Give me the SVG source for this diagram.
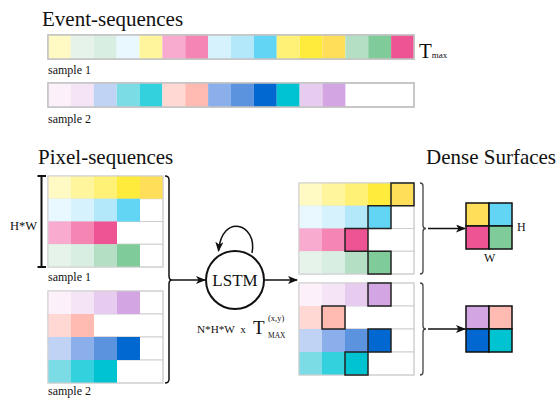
<svg xmlns="http://www.w3.org/2000/svg" xmlns:xlink="http://www.w3.org/1999/xlink" width="558" height="398" viewBox="0 0 558 398" font-family="'Liberation Serif', 'Times New Roman', 'DejaVu Serif', serif">
<style>
  text { font-family: 'Liberation Serif', 'Times New Roman', 'DejaVu Serif', serif; fill: #111; }
  .title { font-size: 21px; }
  .small { font-size: 12px; }
  .row { fill: #fff; stroke: #cfcfcf; stroke-width: 1; }
  .bar { fill: #fff; stroke: #c4c4c4; stroke-width: 1.5; }
  .hl { fill: none; stroke: #222; stroke-width: 1.5; }
  .brk { fill: none; stroke: #111; stroke-width: 1.5; }
  .brk2 { fill: none; stroke: #444; stroke-width: 1.3; }
  .arr { fill: none; stroke: #111; stroke-width: 1.5; marker-end: url(#ah); }
  .dense { stroke: #111; stroke-width: 1.5; }
</style>
<defs>
  <marker id="ah" viewBox="0 0 10 8" refX="9" refY="4" markerWidth="10" markerHeight="8" markerUnits="userSpaceOnUse" orient="auto">
    <path d="M0,0 L10,4 L0,8 L2.5,4 z" fill="#111"/>
  </marker>
  <g id="gridA">
    <rect class="row" x="0" y="0" width="115" height="22.75"/>
    <rect class="row" x="0" y="22.75" width="115" height="22.75"/>
    <rect class="row" x="0" y="45.5" width="115" height="22.75"/>
    <rect class="row" x="0" y="68.25" width="115" height="22.75"/>
    <rect x="0" y="0" width="23" height="22.75" fill="#FFF9C4"/>
    <rect x="23" y="0" width="23" height="22.75" fill="#FFF59D"/>
    <rect x="46" y="0" width="23" height="22.75" fill="#FFF176"/>
    <rect x="69" y="0" width="23" height="22.75" fill="#FFEB3B"/>
    <rect x="92" y="0" width="23" height="22.75" fill="#FFDE59"/>
    <rect x="0" y="22.75" width="23" height="22.75" fill="#E8F8FE"/>
    <rect x="23" y="22.75" width="23" height="22.75" fill="#D6F2FD"/>
    <rect x="46" y="22.75" width="23" height="22.75" fill="#B2E8FA"/>
    <rect x="69" y="22.75" width="23" height="22.75" fill="#62D5F4"/>
    <rect x="0" y="45.5" width="23" height="22.75" fill="#F9AACF"/>
    <rect x="23" y="45.5" width="23" height="22.75" fill="#F585B2"/>
    <rect x="46" y="45.5" width="23" height="22.75" fill="#EE5493"/>
    <rect x="0" y="68.25" width="23" height="22.75" fill="#E6F3EA"/>
    <rect x="23" y="68.25" width="23" height="22.75" fill="#D9EEE2"/>
    <rect x="46" y="68.25" width="23" height="22.75" fill="#B4DFC4"/>
    <rect x="69" y="68.25" width="23" height="22.75" fill="#7FCB99"/>
    <rect x="0" y="0" width="115" height="91" fill="none" stroke="#cfcfcf" stroke-width="1"/>
  </g>
  <g id="gridB">
    <rect class="row" x="0" y="0" width="115" height="23"/>
    <rect class="row" x="0" y="23" width="115" height="23"/>
    <rect class="row" x="0" y="46" width="115" height="23"/>
    <rect class="row" x="0" y="69" width="115" height="23"/>
    <rect x="0" y="0" width="23" height="23" fill="#FCF0FB"/>
    <rect x="23" y="0" width="23" height="23" fill="#F5E4F5"/>
    <rect x="46" y="0" width="23" height="23" fill="#E8CCEF"/>
    <rect x="69" y="0" width="23" height="23" fill="#D3A5E3"/>
    <rect x="0" y="23" width="23" height="23" fill="#FFD8D4"/>
    <rect x="23" y="23" width="23" height="23" fill="#FFBAB1"/>
    <rect x="0" y="46" width="23" height="23" fill="#C0D3F4"/>
    <rect x="23" y="46" width="23" height="23" fill="#8AAFEA"/>
    <rect x="46" y="46" width="23" height="23" fill="#5B93DE"/>
    <rect x="69" y="46" width="23" height="23" fill="#0068D0"/>
    <rect x="0" y="69" width="23" height="23" fill="#7CDCE6"/>
    <rect x="23" y="69" width="23" height="23" fill="#33D1DD"/>
    <rect x="46" y="69" width="23" height="23" fill="#00C3D1"/>
    <rect x="0" y="0" width="115" height="92" fill="none" stroke="#cfcfcf" stroke-width="1"/>
  </g>
</defs>

<g id="event-sequences">
  <text class="title" x="42" y="26">Event-sequences</text>
  <g id="event-sample-1">
    <rect class="bar" x="48" y="35" width="366" height="24"/>
    <rect x="48" y="35" width="22.875" height="24" fill="#FFF9C4"/>
    <rect x="70.875" y="35" width="22.875" height="24" fill="#E6F3EA"/>
    <rect x="93.75" y="35" width="22.875" height="24" fill="#D9EEE2"/>
    <rect x="116.625" y="35" width="22.875" height="24" fill="#E8F8FE"/>
    <rect x="139.5" y="35" width="22.875" height="24" fill="#FFF59D"/>
    <rect x="162.375" y="35" width="22.875" height="24" fill="#F9AACF"/>
    <rect x="185.25" y="35" width="22.875" height="24" fill="#F585B2"/>
    <rect x="208.125" y="35" width="22.875" height="24" fill="#D6F2FD"/>
    <rect x="231" y="35" width="22.875" height="24" fill="#B2E8FA"/>
    <rect x="253.875" y="35" width="22.875" height="24" fill="#62D5F4"/>
    <rect x="276.75" y="35" width="22.875" height="24" fill="#FFF176"/>
    <rect x="299.625" y="35" width="22.875" height="24" fill="#FFEB3B"/>
    <rect x="322.5" y="35" width="22.875" height="24" fill="#FFDE59"/>
    <rect x="345.375" y="35" width="22.875" height="24" fill="#B4DFC4"/>
    <rect x="368.25" y="35" width="22.875" height="24" fill="#7FCB99"/>
    <rect x="391.125" y="35" width="22.875" height="24" fill="#EE5493"/>
    <rect x="48" y="35" width="366" height="24" fill="none" stroke="#c4c4c4" stroke-width="1.5"/>
    <text class="small" x="48" y="74">sample 1</text>
  </g>
  <text x="419" y="58" font-size="21">T<tspan font-size="9">max</tspan></text>
  <g id="event-sample-2">
    <rect class="bar" x="48" y="83" width="366" height="24"/>
    <rect x="48" y="83" width="22.875" height="24" fill="#FCF0FB"/>
    <rect x="70.875" y="83" width="22.875" height="24" fill="#F5E4F5"/>
    <rect x="93.75" y="83" width="22.875" height="24" fill="#C0D3F4"/>
    <rect x="116.625" y="83" width="22.875" height="24" fill="#7CDCE6"/>
    <rect x="139.5" y="83" width="22.875" height="24" fill="#33D1DD"/>
    <rect x="162.375" y="83" width="22.875" height="24" fill="#FFD8D4"/>
    <rect x="185.25" y="83" width="22.875" height="24" fill="#FFBAB1"/>
    <rect x="208.125" y="83" width="22.875" height="24" fill="#8AAFEA"/>
    <rect x="231" y="83" width="22.875" height="24" fill="#5B93DE"/>
    <rect x="253.875" y="83" width="22.875" height="24" fill="#0068D0"/>
    <rect x="276.75" y="83" width="22.875" height="24" fill="#00C3D1"/>
    <rect x="299.625" y="83" width="22.875" height="24" fill="#E8CCEF"/>
    <rect x="322.5" y="83" width="22.875" height="24" fill="#D3A5E3"/>
    <rect x="48" y="83" width="366" height="24" fill="none" stroke="#c4c4c4" stroke-width="1.5"/>
    <text class="small" x="48" y="123">sample 2</text>
  </g>
</g>

<g id="pixel-sequences">
  <text class="title" x="38" y="164">Pixel-sequences</text>
  <g id="pixel-sample-1">
    <use xlink:href="#gridA" href="#gridA" x="48" y="176"/>
    <text class="small" x="48" y="281">sample 1</text>
  </g>
  <g id="pixel-sample-2">
    <use xlink:href="#gridB" href="#gridB" x="48" y="291"/>
    <text class="small" x="48" y="395">sample 2</text>
  </g>
  <g id="hw-bracket">
    <path d="M41.5,176 V267 M37.5,176 H46 M37.5,267 H46" fill="none" stroke="#111" stroke-width="2"/>
    <text x="10" y="230" font-size="12.5">H*W</text>
  </g>
</g>

<g id="lstm">
  <circle cx="235" cy="280" r="29" fill="#fff" stroke="#111" stroke-width="2"/>
  <text x="235" y="286" font-size="17" text-anchor="middle">LSTM</text>
  <text x="197" y="333" font-size="11.2" xml:space="preserve">N*H*W  x</text>
  <text x="253" y="334" font-size="19">T</text>
  <text x="268" y="321" font-size="8.5">(x,y)</text>
  <text x="268" y="338" font-size="7.5">MAX</text>
</g>

<g id="output-1">
  <use xlink:href="#gridA" href="#gridA" x="299" y="183"/>
  <rect class="hl" x="391" y="183" width="23" height="22.75"/>
  <rect class="hl" x="368" y="205.75" width="23" height="22.75"/>
  <rect class="hl" x="345" y="228.5" width="23" height="22.75"/>
  <rect class="hl" x="368" y="251.25" width="23" height="22.75"/>
</g>
<g id="output-2">
  <use xlink:href="#gridB" href="#gridB" x="299" y="283"/>
  <rect class="hl" x="368" y="283" width="23" height="23"/>
  <rect class="hl" x="322" y="306" width="23" height="23"/>
  <rect class="hl" x="368" y="329" width="23" height="23"/>
  <rect class="hl" x="345" y="352" width="23" height="23"/>
</g>

<g id="dense-surfaces-title">
  <text class="title" x="426" y="164">Dense Surfaces</text>
</g>
<g id="dense-1">
  <rect class="dense" x="466" y="203" width="23" height="23" fill="#FFDE59"/>
  <rect class="dense" x="489" y="203" width="23" height="23" fill="#62D5F4"/>
  <rect class="dense" x="466" y="226" width="23" height="23" fill="#EE5493"/>
  <rect class="dense" x="489" y="226" width="23" height="23" fill="#7FCB99"/>
  <text x="517" y="231" font-size="12">H</text>
  <text x="484" y="262" font-size="12">W</text>
</g>
<g id="dense-2">
  <rect class="dense" x="466" y="306" width="23" height="23" fill="#D3A5E3"/>
  <rect class="dense" x="489" y="306" width="23" height="23" fill="#FFBAB1"/>
  <rect class="dense" x="466" y="329" width="23" height="23" fill="#0068D0"/>
  <rect class="dense" x="489" y="329" width="23" height="23" fill="#00C3D1"/>
</g>

<g id="connectors">
  <path class="brk" d="M165,176 Q169,176 169,180 V276 Q169,280 172,280 Q169,280 169,284 V379 Q169,383 165,383"/>
  <line class="arr" x1="172" y1="280" x2="205" y2="280"/>
  <line class="arr" x1="265" y1="280" x2="297" y2="280"/>
  <path class="arr" d="M252,253 C258,224 222,212 218.5,251"/>
  <path class="brk2" d="M420,183 Q423,183 423,186 V225.5 Q423,228.5 426,228.5 Q423,228.5 423,231.5 V271 Q423,274 420,274"/>
  <line class="arr" x1="428" y1="228.5" x2="465" y2="228.5"/>
  <path class="brk2" d="M420,283 Q423,283 423,286 V326 Q423,329 426,329 Q423,329 423,332 V372 Q423,375 420,375"/>
  <line class="arr" x1="428" y1="329" x2="465" y2="329"/>
</g>
</svg>
